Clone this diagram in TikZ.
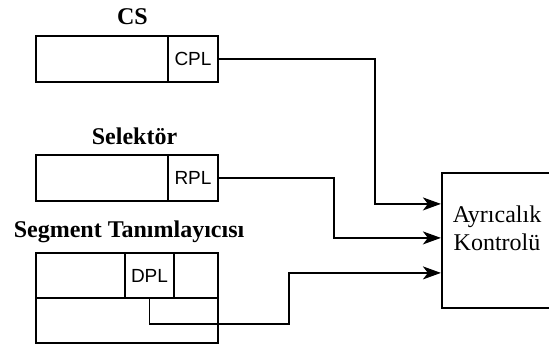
\documentclass[tikz,border=0pt]{standalone}
\usepackage{fontspec}
\setmainfont{Liberation Serif}
\newfontfamily\fieldfont{Liberation Sans}
\usetikzlibrary{arrows.meta}

\begin{document}
\begin{tikzpicture}[
    x=1pt, y=-1pt,
    reg/.style={
      draw,
      line width=2.6pt,
      minimum width=182pt,
      inner sep=0pt
    },
    field/.style={
      draw,
      line width=1.2pt,
      minimum height=46pt,
      inner sep=0pt,
      font=\fieldfont\fontsize{19}{21}\selectfont
    },
    title/.style={anchor=base, font=\bfseries\fontsize{24}{28}\selectfont},
    arrow/.style={-{Stealth[length=18pt,width=13pt,inset=5pt]}, line width=1.7pt}
  ]
    \path[use as bounding box, clip] (0,0) rectangle (549,349);

    % CS register
    \node[title] (cs-label) at (132.5,24) {CS};
    \node[field, minimum width=50pt] (cpl) at (193,59) {CPL};
    \node[reg, minimum height=46pt] (cs) at (127,59) {};

    % selector
    \node[title] (sel-label) at (134.5,144) {Selektör};
    \node[field, minimum width=50pt] (rpl) at (193,178) {RPL};
    \node[reg, minimum height=46pt] (sel) at (127,178) {};

    % segment descriptor
    \node[title] (seg-label) at (129,237) {Segment Tanımlayıcısı};
    \node[field, minimum width=182pt, minimum height=45pt] (seg-top) at (127,275.5) {};
    \node[field, minimum width=49pt, minimum height=45pt] (dpl) at (149.5,275.5) {DPL};
    \node[reg, minimum height=90pt] (seg) at (127,298) {};

    % privilege check
    \node[draw, line width=2.2pt, minimum width=110pt, minimum height=135pt] (kontrol)
      at (497,240.5) {};
    \node[align=center, font=\fontsize{24}{28}\selectfont] (kontrol-text)
      at (497,228) {Ayrıcalık\\Kontrolü};

    \draw[arrow] (cpl.east) -| (375,204) -- ([yshift=-32pt]kontrol.north west);
    \draw[arrow] (rpl.east) -| (334,238) -- ([yshift=-66pt]kontrol.north west);
    \draw[arrow] (dpl.south) |- (289,324) |- ([yshift=-101pt]kontrol.north west);
  \end{tikzpicture}
\end{document}
